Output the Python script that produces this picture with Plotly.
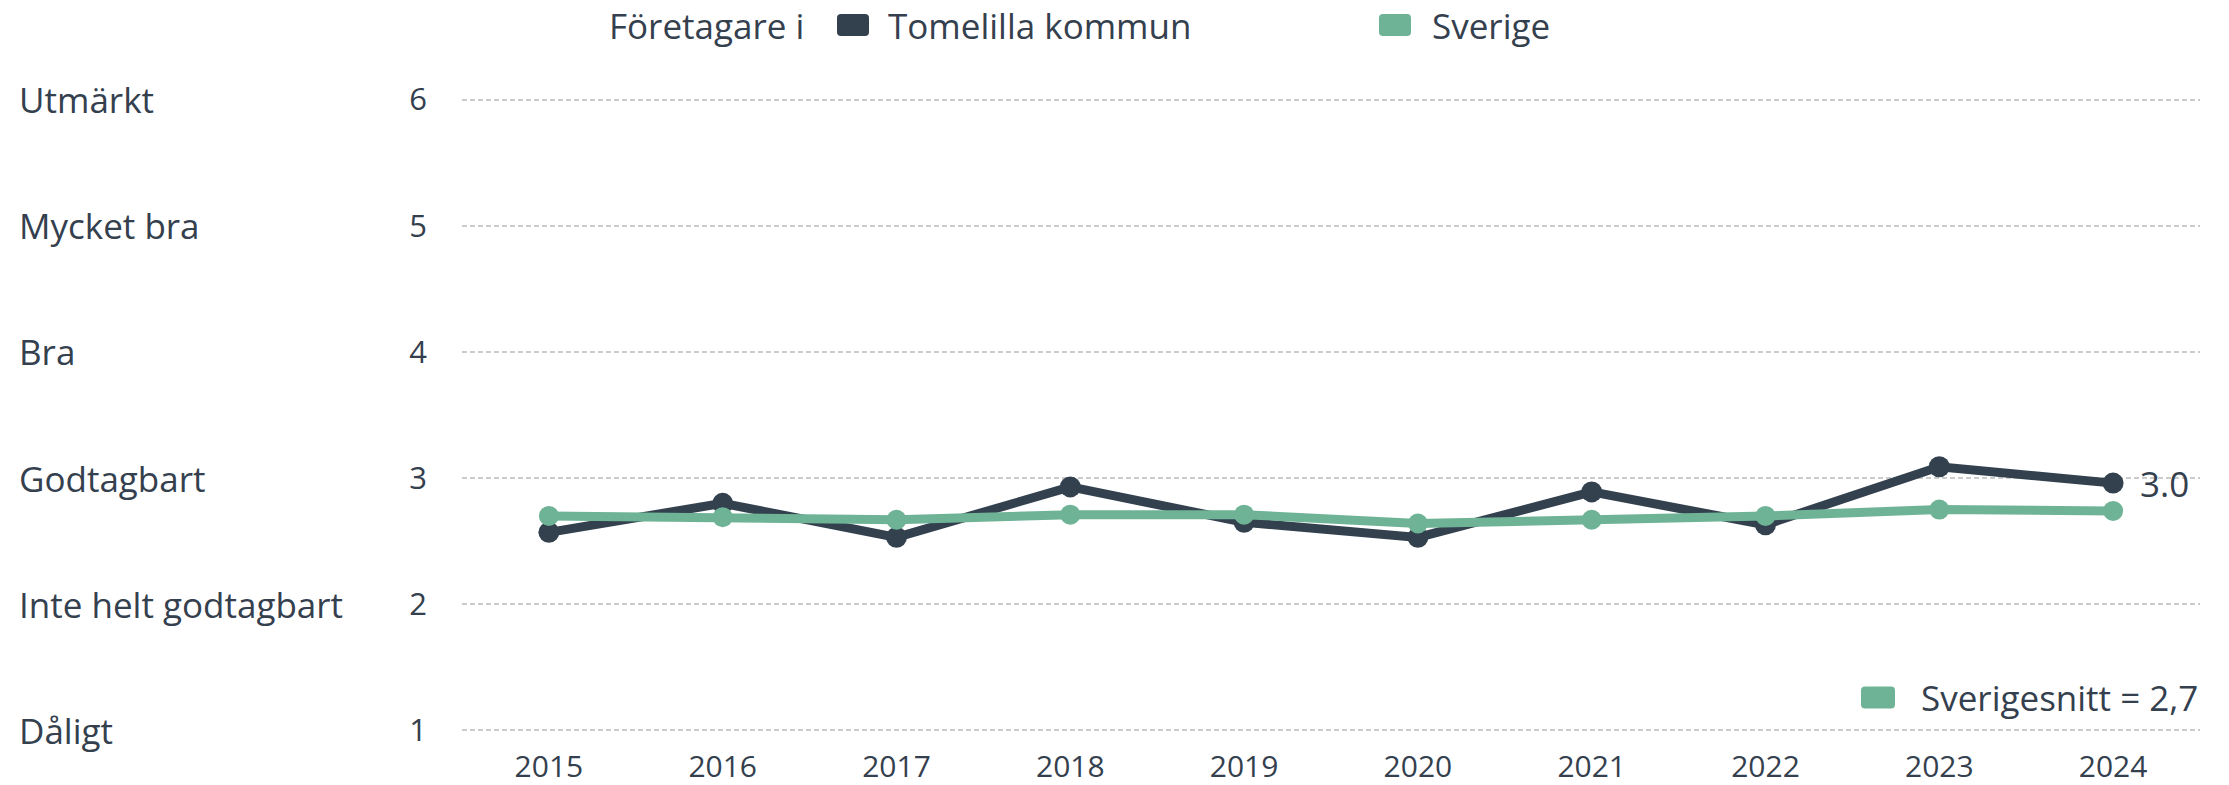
import plotly.graph_objects as go

years = [2015, 2016, 2017, 2018, 2019, 2020, 2021, 2022, 2023, 2024]
tomelilla = [2.57, 2.80, 2.53, 2.93, 2.65, 2.53, 2.89, 2.63, 3.09, 2.96]
sverige = [2.70, 2.69, 2.67, 2.71, 2.71, 2.64, 2.67, 2.70, 2.75, 2.74]
scale_values = [1, 2, 3, 4, 5, 6]
scale_labels = ["Dåligt", "Inte helt godtagbart", "Godtagbart", "Bra", "Mycket bra", "Utmärkt"]
sverigesnitt = 2.7
series_names = ["Tomelilla kommun", "Sverige"]
legend_title = "Företagare i"

DARK = "#33414f"
GREEN = "#6fb396"
TEXT = "#34404e"
FONT = "Open Sans"
LABEL_SIZE = 35

W, H = 2229, 785
L, R, T, B = 462, 29, 87, 42
PX0, PY0 = L, T
PW, PH = W - L - R, H - T - B


def px2paper_x(px):
    return (px - PX0) / PW


def px2paper_y(py):
    return 1 - (py - PY0) / PH


def rounded_rect(cx, cy, w, h, r):
    x0, x1 = px2paper_x(cx - w / 2), px2paper_x(cx + w / 2)
    y0, y1 = px2paper_y(cy + h / 2), px2paper_y(cy - h / 2)
    rx, ry = r / PW, r / PH
    return (f"M {x0+rx},{y0} L {x1-rx},{y0} Q {x1},{y0} {x1},{y0+ry} "
            f"L {x1},{y1-ry} Q {x1},{y1} {x1-rx},{y1} L {x0+rx},{y1} "
            f"Q {x0},{y1} {x0},{y1-ry} L {x0},{y0+ry} Q {x0},{y0} {x0+rx},{y0} Z")


fig = go.Figure()

fig.add_trace(go.Scatter(
    x=years, y=tomelilla, mode="lines+markers", name=series_names[0],
    line=dict(color=DARK, width=9), marker=dict(color=DARK, size=21),
    showlegend=False, cliponaxis=False,
))
fig.add_trace(go.Scatter(
    x=years, y=sverige, mode="lines+markers", name=series_names[1],
    line=dict(color=GREEN, width=9), marker=dict(color=GREEN, size=20),
    showlegend=False, cliponaxis=False,
))

# end label
fig.add_annotation(
    x=years[-1], y=tomelilla[-1], xref="x", yref="y", text=f"{tomelilla[-1]:.1f}",
    showarrow=False, xanchor="left", yanchor="middle", xshift=25,
    font=dict(family=FONT, size=35, color=TEXT),
)

# category labels on the left
for v, lab in zip(scale_values, scale_labels):
    fig.add_annotation(
        x=px2paper_x(17), xref="paper", y=v, yref="y", text=lab, showarrow=False,
        xanchor="left", yanchor="middle",
        font=dict(family=FONT, size=LABEL_SIZE, color=TEXT),
    )

# top legend
leg_y = px2paper_y(25)
fig.add_annotation(x=px2paper_x(607), y=leg_y, xref="paper", yref="paper",
                   text=legend_title, showarrow=False, xanchor="left", yanchor="middle",
                   font=dict(family=FONT, size=LABEL_SIZE, color=TEXT))
for nm, col, sq_x, tx_x in zip(series_names, [DARK, GREEN], [853, 1395], [886, 1430]):
    fig.add_shape(type="path", xref="paper", yref="paper",
                  path=rounded_rect(sq_x, 25, 32, 22, 4), fillcolor=col, line=dict(width=0))
    fig.add_annotation(x=px2paper_x(tx_x), y=leg_y, xref="paper", yref="paper",
                       text=nm, showarrow=False, xanchor="left", yanchor="middle",
                       font=dict(family=FONT, size=LABEL_SIZE, color=TEXT))

# bottom legend
fig.add_shape(type="path", xref="paper", yref="paper",
              path=rounded_rect(1878, 697.5, 34, 22, 4), fillcolor=GREEN, line=dict(width=0))
fig.add_annotation(x=1.0, y=px2paper_y(697.5), xref="paper", yref="paper",
                   text="Sverigesnitt = " + f"{sverigesnitt:.1f}".replace(".", ","),
                   showarrow=False, xanchor="right", yanchor="middle",
                   font=dict(family=FONT, size=LABEL_SIZE, color=TEXT))

fig.update_layout(
    width=W, height=H,
    margin=dict(l=L, r=R, t=T, b=B, autoexpand=False),
    paper_bgcolor="white", plot_bgcolor="white",
    font=dict(family=FONT, color=TEXT, size=30),
    showlegend=False,
    xaxis=dict(
        range=[2014.5, 2024.5], tickmode="array", tickvals=years,
        ticktext=[str(y) for y in years], showgrid=False, zeroline=False,
        showline=False, tickfont=dict(family=FONT, size=30, color=TEXT),
        ticks="", ticklabelstandoff=3,
    ),
    yaxis=dict(
        range=[0.9, 6.1], tickmode="array", tickvals=scale_values,
        ticktext=[str(v) for v in scale_values], showgrid=True,
        gridcolor="#cccccc", griddash="5px,3px", gridwidth=1.5, zeroline=False,
        showline=False, ticks="", ticklabelstandoff=34,
        tickfont=dict(family=FONT, size=31, color=TEXT),
    ),
)

fig.write_html("out.html", config={"displayModeBar": False},
               post_script="document.body.style.margin='0';")
